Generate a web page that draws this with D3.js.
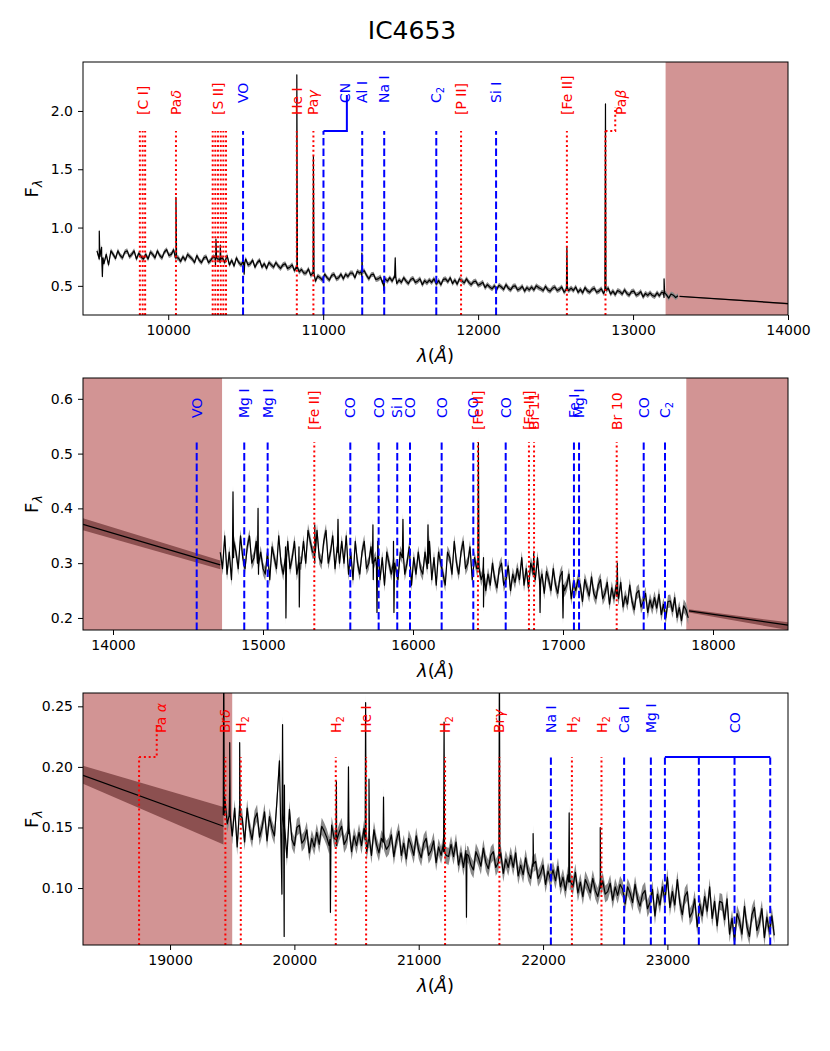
<!DOCTYPE html>
<html>
<head>
<meta charset="utf-8">
<script src="https://cdn.jsdelivr.net/npm/d3@7"></script>
<style>
  body { margin: 0; background: #fff; }
  svg { font-family: "DejaVu Sans", sans-serif; }
  .lab { font-size: 14px; }
  .tick text { font-size: 14px; font-family: "DejaVu Sans", sans-serif; }
</style>
</head>
<body>
<div id="container"></div>
<script>
/* CONSTANTS AND GLOBALS */
const width = 830, height = 1051,
  plotLeft = 83, plotRight = 788;

/* DATA */
// panel 1 : J band
const p1Start = 9540, p1Step = 15;
const p1Flux = [
  0.80,0.73,0.83,0.69,0.77,0.68,0.80,0.77,0.735,0.80,
  0.76,0.74,0.79,0.80,0.75,0.77,0.80,0.73,0.78,0.75,
  0.73,0.77,0.73,0.79,0.77,0.74,0.80,0.76,0.74,0.79,
  0.81,0.76,0.77,0.81,0.74,0.74,0.71,0.75,0.72,0.77,
  0.75,0.73,0.70,0.76,0.72,0.70,0.74,0.75,0.70,0.72,
  0.75,0.68,0.73,0.70,0.74,0.70,0.76,0.68,0.72,0.67,
  0.74,0.70,0.68,0.71,0.73,0.68,0.69,0.72,0.66,0.70,
  0.72,0.66,0.69,0.65,0.70,0.68,0.66,0.70,0.67,0.65,
  0.68,0.69,0.65,0.66,0.68,0.63,0.65,0.62,0.64,0.61,
  0.61,0.645,0.59,0.61,0.54,0.585,0.57,0.55,0.60,0.57,
  0.55,0.59,0.60,0.56,0.57,0.60,0.56,0.60,0.58,0.61,
  0.61,0.57,0.625,0.61,0.58,0.63,0.59,0.56,0.595,0.60,
  0.555,0.56,0.575,0.52,0.56,0.54,0.57,0.54,0.58,0.52,
  0.55,0.53,0.57,0.54,0.52,0.555,0.565,0.53,0.54,0.56,
  0.51,0.545,0.525,0.55,0.53,0.56,0.515,0.545,0.51,0.555,
  0.56,0.535,0.57,0.52,0.55,0.515,0.56,0.545,0.525,0.56,
  0.53,0.51,0.535,0.54,0.505,0.515,0.53,0.485,0.51,0.49,
  0.475,0.50,0.47,0.505,0.49,0.47,0.51,0.48,0.465,0.495,
  0.50,0.465,0.475,0.495,0.455,0.485,0.465,0.49,0.465,0.50,
  0.485,0.475,0.46,0.495,0.465,0.455,0.48,0.49,0.46,0.47,
  0.49,0.445,0.475,0.46,0.48,0.46,0.49,0.445,0.47,0.44,
  0.485,0.457,0.445,0.47,0.48,0.445,0.455,0.475,0.435,0.46,
  0.48,0.43,0.455,0.425,0.46,0.45,0.43,0.465,0.435,0.42,
  0.45,0.455,0.42,0.43,0.45,0.405,0.435,0.418,0.44,0.417,
  0.41,0.44,0.415,0.445,0.40,0.425,0.395,0.43,0.42,0.40,
  0.415
];
// [wavelength, local level, peak]
const p1Spikes = [
  [9555,0.75,0.97],[9575,0.74,0.58],[10050,0.74,1.26],[10308,0.74,0.90],[10336,0.73,0.85],
  [10490,0.70,0.60],[10830,0.66,2.31],[10937,0.61,1.61],[11250,0.62,0.78],
  [11392,0.55,0.46],[11465,0.57,0.74],[12573,0.47,0.83],[12822,0.46,2.06],
  [13200,0.44,0.56]
];
const p1Err = 0.022;
// extrapolated continuum [wavelength, flux, low, high]
const p1Model = [[13300,0.410,0.406,0.414],[14000,0.348,0.340,0.354]];
const p1Shade = [[13210,14000]];
const p1Lines = [
  [9817,"","e"],[9835,"[C I]","e"],[9851,"","e"],
  [10050,"Paδ","e"],
  [10287,"","e"],[10304,"","e"],[10321,"[S II]","e"],[10339,"","e"],[10356,"","e"],[10373,"","e"],
  [10483,"VO","a"],[10830,"He I","e"],[10937,"Paγ","e"],
  [11252,"Al I","a"],[11394,"Na I","a"],[11730,"C_2","a"],
  [11890,"[P II]","e"],[12116,"Si I","a"],[12573,"[Fe II]","e"]
];
// [line, bracket end, label position, label, kind]
const p1Brackets = [[11002,11153,11140,"CN","a"],[12822,12885,12925,"Paβ","e"]];
const p1XTicks = [10000,11000,12000,13000,14000];
const p1YTicks = [0.5,1.0,1.5,2.0];

// panel 2 : H band
const p2Start = 14715, p2Step = 15;
const p2Flux = [
  0.32,0.29,0.35,0.28,0.32,0.27,0.34,0.32,0.29,0.35,
  0.31,0.29,0.33,0.35,0.30,0.31,0.34,0.28,0.32,0.29,
  0.28,0.32,0.27,0.33,0.31,0.29,0.35,0.30,0.28,0.33,
  0.34,0.29,0.31,0.34,0.28,0.33,0.30,0.34,0.30,0.36,
  0.34,0.32,0.30,0.36,0.31,0.30,0.34,0.36,0.30,0.32,
  0.35,0.29,0.33,0.30,0.34,0.30,0.35,0.28,0.32,0.27,
  0.34,0.30,0.28,0.32,0.34,0.29,0.30,0.33,0.27,0.31,
  0.34,0.27,0.31,0.26,0.32,0.30,0.28,0.34,0.29,0.27,
  0.32,0.33,0.28,0.30,0.33,0.26,0.31,0.28,0.32,0.29,
  0.28,0.32,0.29,0.34,0.27,0.31,0.26,0.32,0.30,0.28,
  0.26,0.32,0.31,0.28,0.34,0.30,0.28,0.32,0.34,0.29,
  0.30,0.33,0.27,0.31,0.29,0.30,0.27,0.31,0.25,0.28,
  0.26,0.30,0.27,0.255,0.29,0.30,0.26,0.27,0.295,0.25,
  0.28,0.265,0.29,0.27,0.31,0.26,0.29,0.255,0.30,0.285,
  0.27,0.31,0.255,0.28,0.245,0.285,0.27,0.25,0.29,0.26,
  0.245,0.275,0.285,0.25,0.26,0.28,0.235,0.265,0.25,0.27,
  0.26,0.23,0.27,0.255,0.24,0.275,0.245,0.235,0.26,0.27,
  0.235,0.245,0.265,0.225,0.255,0.235,0.26,0.235,0.265,0.22,
  0.24,0.225,0.26,0.23,0.215,0.245,0.25,0.22,0.23,0.245,
  0.21,0.233,0.218,0.237,0.218,0.243,0.206,0.225,0.20,0.23,
  0.231,0.212,0.237,0.201,0.219,0.195,0.222,0.215,0.20
];
const p2Spikes = [
  [14800,0.31,0.43],[14967,0.30,0.40],[15153,0.31,0.20],[15242,0.30,0.22],
  [15345,0.32,0.37],[15500,0.32,0.38],[15733,0.30,0.37],[15760,0.30,0.21],
  [15873,0.30,0.21],[15933,0.31,0.38],[16100,0.30,0.37],[16436,0.29,0.52],
  [16470,0.28,0.22],[16805,0.28,0.32],[16847,0.27,0.21],[17000,0.26,0.20],
  [17362,0.24,0.30]
];
const p2Err = 0.012;
const p2Model = [
  [[13800,0.371,0.360,0.382],[14715,0.297,0.289,0.305]],
  [[17840,0.213,0.210,0.216],[18500,0.187,0.178,0.192]]
];
const p2Shade = [[13800,14727],[17822,18500]];
const p2Lines = [
  [14558,"VO","a"],[14875,"Mg I","a"],[15031,"Mg I","a"],[15342,"[Fe II]","e"],
  [15582,"CO","a"],[15771,"CO","a"],[15895,"Si I","a"],[15980,"CO","a"],
  [16191,"CO","a"],[16402,"CO","a"],[16433,"[Fe II]","e"],[16618,"CO","a"],
  [16773,"[Fe II]","e"],[16807,"Br 11","e"],[17073,"Fe I","a"],[17107,"Mg I","a"],
  [17358,"Br 10","e"],[17538,"CO","a"],[17680,"C_2","a"]
];
const p2XTicks = [14000,15000,16000,17000,18000];
const p2YTicks = [0.2,0.3,0.4,0.5,0.6];

// panel 3 : K band
const p3Start = 19440, p3Step = 20;
const p3Flux = [
  0.175,0.153,0.187,0.143,0.166,0.134,0.170,0.158,0.138,0.166,
  0.149,0.140,0.157,0.162,0.142,0.150,0.163,0.139,0.159,0.149,
  0.143,0.172,0.205,0.095,0.185,0.125,0.165,0.140,0.135,0.150,
  0.152,0.137,0.140,0.148,0.129,0.141,0.134,0.146,0.136,0.151,
  0.147,0.142,0.135,0.152,0.141,0.135,0.146,0.151,0.136,0.140,
  0.149,0.130,0.143,0.135,0.146,0.135,0.149,0.129,0.140,0.127,
  0.148,0.136,0.129,0.141,0.146,0.132,0.135,0.144,0.126,0.139,
  0.147,0.127,0.137,0.124,0.141,0.135,0.127,0.143,0.131,0.125,
  0.137,0.141,0.127,0.131,0.139,0.121,0.134,0.127,0.137,0.127,
  0.126,0.136,0.126,0.138,0.119,0.129,0.117,0.131,0.127,0.119,
  0.115,0.130,0.125,0.118,0.133,0.121,0.116,0.127,0.130,0.117,
  0.121,0.129,0.112,0.124,0.117,0.127,0.117,0.129,0.110,0.119,
  0.111,0.125,0.113,0.108,0.118,0.122,0.108,0.112,0.119,0.103,
  0.114,0.107,0.115,0.106,0.118,0.101,0.109,0.098,0.111,0.106,
  0.101,0.113,0.096,0.105,0.093,0.107,0.102,0.096,0.108,0.098,
  0.093,0.103,0.106,0.095,0.097,0.104,0.090,0.101,0.094,0.103,
  0.099,0.087,0.101,0.096,0.088,0.103,0.091,0.085,0.095,0.098,
  0.083,0.088,0.099,0.077,0.095,0.086,0.101,0.090,0.109,0.084,
  0.097,0.086,0.107,0.088,0.078,0.093,0.097,0.076,0.080,0.091,
  0.068,0.087,0.077,0.093,0.081,0.101,0.075,0.089,0.069,0.089,
  0.088,0.074,0.091,0.062,0.075,0.056,0.079,0.073,0.062,0.085,
  0.068,0.060,0.078,0.084,0.065,0.071,0.083,0.059,0.076,0.064,
  0.077,0.061
];
const p3Spikes = [
  [19432,0.16,0.30],[19480,0.16,0.22],[19560,0.16,0.22],[19905,0.16,0.235],
  [19918,0.15,0.060],[20290,0.14,0.080],[20338,0.14,0.188],[20435,0.145,0.200],
  [20573,0.14,0.253],[20600,0.14,0.190],[20717,0.138,0.175],[21204,0.13,0.237],
  [21384,0.128,0.076],[21649,0.125,0.300],[21920,0.12,0.145],[22210,0.105,0.162],
  [22460,0.10,0.150]
];
const p3Err = 0.007;
const p3Model = [[18300,0.193,0.186,0.201],[19430,0.151,0.136,0.167]];
const p3Shade = [[18300,19500]];
const p3Lines = [
  [19445,"Brδ","e"],[19569,"H_2","e"],[20333,"H_2","e"],[20577,"He I","e"],
  [21212,"H_2","e"],[21649,"Brγ","e"],[22063,"Na I","a"],[22232,"H_2","e"],
  [22470,"H_2","e"],[22652,"Ca I","a"],[22867,"Mg I","a"]
];
const p3Brackets = [[18751,18893,18925,"Pa α","e"]];
const p3CO = [22980,23253,23540,23827];
const p3COLabel = 23540;
const p3XTicks = [19000,20000,21000,22000,23000];
const p3YTicks = [0.10,0.15,0.20,0.25];

/* PANEL LAYOUT */
const panels = [
  {top: 62, bottom: 315, xDomain: [9450,14000], yDomain: [0.25,2.42],
   start: p1Start, step: p1Step, flux: p1Flux, spikes: p1Spikes, err: p1Err,
   models: [p1Model], shade: p1Shade, lines: p1Lines, brackets: p1Brackets, co: null,
   xTicks: p1XTicks, yTicks: p1YTicks, yFmt: ".1f",
   lineTop: 69, labRed: 53, labBlue: 41},
  {top: 378, bottom: 630, xDomain: [13800,18500], yDomain: [0.178,0.638],
   start: p2Start, step: p2Step, flux: p2Flux, spikes: p2Spikes, err: p2Err,
   models: p2Model, shade: p2Shade, lines: p2Lines, brackets: [], co: null,
   xTicks: p2XTicks, yTicks: p2YTicks, yFmt: ".1f",
   lineTop: 64, labRed: 52, labBlue: 40},
  {top: 693, bottom: 945, xDomain: [18300,23970], yDomain: [0.053,0.261],
   start: p3Start, step: p3Step, flux: p3Flux, spikes: p3Spikes, err: p3Err,
   models: [p3Model], shade: p3Shade, lines: p3Lines, brackets: p3Brackets, co: p3CO,
   xTicks: p3XTicks, yTicks: p3YTicks, yFmt: ".2f",
   lineTop: 64, labRed: 40, labBlue: 40}
];

const RED = "#ff0000", BLUE = "#0000ff";
const style = {
  e: {color: RED, dash: "2,2.8"},
  a: {color: BLUE, dash: "7.4,3.2"}
};

// grid points + narrow spikes, sorted by wavelength
function buildSeries(start, step, flux, spikes) {
  const pts = flux.map((f, i) => [start + i * step, f]);
  spikes.forEach(([w, base, peak]) => {
    pts.push([w - 4, base], [w, peak], [w + 4, base]);
  });
  return pts.sort((a, b) => a[0] - b[0]);
}

// rotated label, greek letters italic, "_x" as subscript
function addLabel(g, x, y, txt, color) {
  if (!txt) return;
  const t = g.append("text")
    .attr("class", "lab")
    .attr("transform", `translate(${x},${y}) rotate(-90)`)
    .attr("dy", "0.36em")
    .attr("fill", color);
  txt.match(/_.|[α-ω]|[^_α-ω]+/g).forEach(s => {
    if (s[0] === "_") t.append("tspan").style("font-size", "10px").attr("dy", 3).text(s.slice(1));
    else if (/[α-ω]/.test(s)) t.append("tspan").attr("font-style", "italic").text(s);
    else t.append("tspan").text(s);
  });
}

const svg = d3.select("#container").append("svg")
  .attr("width", width)
  .attr("height", height)
  .style("background-color", "white");

// title
svg.append("text")
  .attr("x", 412).attr("y", 39)
  .attr("text-anchor", "middle")
  .style("font-size", "25px")
  .text("IC4653");

panels.forEach((p, k) => {
  /* SCALES */
  const xScale = d3.scaleLinear().domain(p.xDomain).range([plotLeft, plotRight]);
  const yScale = d3.scaleLinear().domain(p.yDomain).range([p.bottom, p.top]);

  svg.append("clipPath").attr("id", "clip" + k)
    .append("rect")
    .attr("x", plotLeft).attr("y", p.top)
    .attr("width", plotRight - plotLeft).attr("height", p.bottom - p.top);

  const plot = svg.append("g").attr("clip-path", `url(#clip${k})`);

  // masked regions
  plot.selectAll(".shade")
    .data(p.shade)
    .join("rect")
    .attr("class", "shade")
    .attr("x", d => xScale(d[0]))
    .attr("width", d => xScale(d[1]) - xScale(d[0]))
    .attr("y", p.top)
    .attr("height", p.bottom - p.top)
    .attr("fill", "#a52a2a")
    .attr("fill-opacity", 0.5);

  // extrapolated continuum with its band
  const band = d3.area().x(d => xScale(d[0])).y0(d => yScale(d[2])).y1(d => yScale(d[3]));
  const mline = d3.line().x(d => xScale(d[0])).y(d => yScale(d[1]));
  p.models.forEach(m => {
    plot.append("path").datum(m).attr("d", band).attr("fill", "#8c5050");
    plot.append("path").datum(m).attr("d", mline)
      .attr("fill", "none").attr("stroke", "black").attr("stroke-width", 1.2);
  });

  // spectrum : grey error band then the flux
  const series = buildSeries(p.start, p.step, p.flux, p.spikes);
  const errBand = d3.area()
    .x(d => xScale(d[0]))
    .y0(d => yScale(d[1] - p.err))
    .y1(d => yScale(d[1] + p.err));
  const sline = d3.line().x(d => xScale(d[0])).y(d => yScale(d[1]));
  plot.append("path").datum(series).attr("d", errBand)
    .attr("fill", "#8a8a8a");
  plot.append("path").datum(series).attr("d", sline)
    .attr("fill", "none").attr("stroke", "black")
    .attr("stroke-width", 1.2).attr("stroke-linejoin", "round");

  // line markers
  const yTop = p.top + p.lineTop;
  const labY = kind => p.top + (kind === "e" ? p.labRed : p.labBlue);

  plot.selectAll(".mark")
    .data(p.lines.concat(p.brackets.map(b => [b[0], "", b[4]])))
    .join("line")
    .attr("class", "mark")
    .attr("x1", d => xScale(d[0])).attr("x2", d => xScale(d[0]))
    .attr("y1", p.bottom).attr("y2", yTop)
    .attr("stroke", d => style[d[2]].color)
    .attr("stroke-width", 2)
    .attr("stroke-dasharray", d => style[d[2]].dash);

  p.lines.forEach(d => addLabel(svg, xScale(d[0]), labY(d[2]), d[1], style[d[2]].color));

  p.brackets.forEach(([w0, w1, wl, txt, kind]) => {
    const s = style[kind];
    const dash = kind === "e" ? s.dash : null;
    const yEnd = labY(kind) - 8;
    plot.append("path")
      .attr("d", `M${xScale(w0)},${yTop}H${xScale(w1)}V${yEnd}`)
      .attr("fill", "none").attr("stroke", s.color).attr("stroke-width", 2)
      .attr("stroke-dasharray", dash);
    addLabel(svg, xScale(wl), labY(kind), txt, s.color);
  });

  if (p.co) {
    plot.selectAll(".co")
      .data(p.co)
      .join("line")
      .attr("class", "co")
      .attr("x1", d => xScale(d)).attr("x2", d => xScale(d))
      .attr("y1", p.bottom).attr("y2", yTop)
      .attr("stroke", BLUE).attr("stroke-width", 2)
      .attr("stroke-dasharray", style.a.dash);
    plot.append("line")
      .attr("x1", xScale(p.co[0])).attr("x2", xScale(p.co[p.co.length - 1]))
      .attr("y1", yTop).attr("y2", yTop)
      .attr("stroke", BLUE).attr("stroke-width", 2);
    addLabel(svg, xScale(p3COLabel), labY("a"), "CO", BLUE);
  }

  /* AXES */
  const xAxis = d3.axisBottom(xScale).tickValues(p.xTicks)
    .tickFormat(d3.format("d")).tickSize(5).tickPadding(5);
  const yAxis = d3.axisLeft(yScale).tickValues(p.yTicks)
    .tickFormat(d3.format(p.yFmt)).tickSize(5).tickPadding(5);

  const gx = svg.append("g").attr("transform", `translate(0,${p.bottom})`).call(xAxis);
  const gy = svg.append("g").attr("transform", `translate(${plotLeft},0)`).call(yAxis);
  [gx, gy].forEach(a => {
    a.select(".domain").remove();
    a.selectAll(".tick line").attr("stroke", "black").attr("stroke-width", 1);
    a.selectAll(".tick text").attr("fill", "black");
  });

  // frame
  svg.append("rect")
    .attr("x", plotLeft).attr("y", p.top)
    .attr("width", plotRight - plotLeft).attr("height", p.bottom - p.top)
    .attr("fill", "none").attr("stroke", "black").attr("stroke-width", 1);

  // axis titles
  const xl = svg.append("text")
    .attr("x", (plotLeft + plotRight) / 2).attr("y", p.bottom + 47)
    .attr("text-anchor", "middle").style("font-size", "18px");
  xl.append("tspan").attr("font-style", "italic").text("λ");
  xl.append("tspan").text("(");
  xl.append("tspan").attr("font-style", "italic").text("Å");
  xl.append("tspan").text(")");

  const yl = svg.append("text")
    .attr("transform", `translate(38,${(p.top + p.bottom) / 2}) rotate(-90)`)
    .attr("text-anchor", "middle").style("font-size", "18px");
  yl.append("tspan").text("F");
  yl.append("tspan").attr("font-style", "italic").style("font-size", "13px").attr("dy", 4).text("λ");
});
</script>
</body>
</html>
